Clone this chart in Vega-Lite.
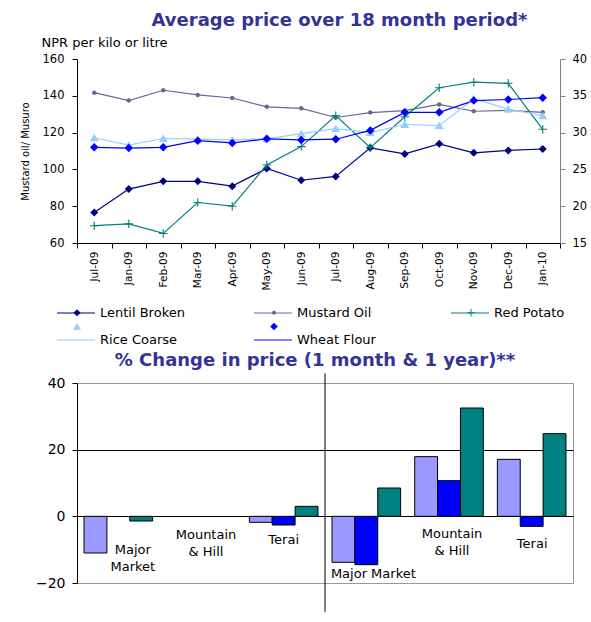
{
  "$schema": "https://vega.github.io/schema/vega-lite/v6.json",
  "background": "white",
  "padding": {"left": 20, "top": 12, "right": 0, "bottom": 0},
  "spacing": 4,
  "resolve": {"scale": {"fill": "independent", "stroke": "independent", "shape": "independent", "color": "independent", "x": "independent", "y": "independent"}, "legend": {"fill": "independent", "stroke": "independent", "shape": "independent", "color": "independent"}},
  "config": {
    "font": "DejaVu Sans",
    "axis": {"labelColor": "#000", "titleColor": "#000", "domainColor": "#000", "tickColor": "#000", "labelFont": "DejaVu Sans", "titleFont": "DejaVu Sans"},
    "legend": {"labelColor": "#000", "labelFont": "DejaVu Sans", "padding": 0}
  },
  "datasets": {
    "prices": [
      {"i": 0, "series": "Lentil Broken", "axis": "L", "value": 76.6},
      {"i": 1, "series": "Lentil Broken", "axis": "L", "value": 89.3},
      {"i": 2, "series": "Lentil Broken", "axis": "L", "value": 93.5},
      {"i": 3, "series": "Lentil Broken", "axis": "L", "value": 93.5},
      {"i": 4, "series": "Lentil Broken", "axis": "L", "value": 90.9},
      {"i": 5, "series": "Lentil Broken", "axis": "L", "value": 100.5},
      {"i": 6, "series": "Lentil Broken", "axis": "L", "value": 94.1},
      {"i": 7, "series": "Lentil Broken", "axis": "L", "value": 96.2},
      {"i": 8, "series": "Lentil Broken", "axis": "L", "value": 111.7},
      {"i": 9, "series": "Lentil Broken", "axis": "L", "value": 108.4},
      {"i": 10, "series": "Lentil Broken", "axis": "L", "value": 113.9},
      {"i": 11, "series": "Lentil Broken", "axis": "L", "value": 109.0},
      {"i": 12, "series": "Lentil Broken", "axis": "L", "value": 110.3},
      {"i": 13, "series": "Lentil Broken", "axis": "L", "value": 111.1},
      {"i": 0, "series": "Mustard Oil", "axis": "L", "value": 141.7},
      {"i": 1, "series": "Mustard Oil", "axis": "L", "value": 137.4},
      {"i": 2, "series": "Mustard Oil", "axis": "L", "value": 143.0},
      {"i": 3, "series": "Mustard Oil", "axis": "L", "value": 140.5},
      {"i": 4, "series": "Mustard Oil", "axis": "L", "value": 138.8},
      {"i": 5, "series": "Mustard Oil", "axis": "L", "value": 134.0},
      {"i": 6, "series": "Mustard Oil", "axis": "L", "value": 133.2},
      {"i": 7, "series": "Mustard Oil", "axis": "L", "value": 128.2},
      {"i": 8, "series": "Mustard Oil", "axis": "L", "value": 130.9},
      {"i": 9, "series": "Mustard Oil", "axis": "L", "value": 131.9},
      {"i": 10, "series": "Mustard Oil", "axis": "L", "value": 135.3},
      {"i": 11, "series": "Mustard Oil", "axis": "L", "value": 131.6},
      {"i": 12, "series": "Mustard Oil", "axis": "L", "value": 132.1},
      {"i": 13, "series": "Mustard Oil", "axis": "L", "value": 131.0},
      {"i": 0, "series": "Red Potato", "axis": "R", "value": 17.35},
      {"i": 1, "series": "Red Potato", "axis": "R", "value": 17.6},
      {"i": 2, "series": "Red Potato", "axis": "R", "value": 16.3},
      {"i": 3, "series": "Red Potato", "axis": "R", "value": 20.5},
      {"i": 4, "series": "Red Potato", "axis": "R", "value": 20.0},
      {"i": 5, "series": "Red Potato", "axis": "R", "value": 25.6},
      {"i": 6, "series": "Red Potato", "axis": "R", "value": 28.1},
      {"i": 7, "series": "Red Potato", "axis": "R", "value": 32.3},
      {"i": 8, "series": "Red Potato", "axis": "R", "value": 27.95},
      {"i": 9, "series": "Red Potato", "axis": "R", "value": 32.15},
      {"i": 10, "series": "Red Potato", "axis": "R", "value": 36.1},
      {"i": 11, "series": "Red Potato", "axis": "R", "value": 36.85},
      {"i": 12, "series": "Red Potato", "axis": "R", "value": 36.7},
      {"i": 13, "series": "Red Potato", "axis": "R", "value": 30.45},
      {"i": 0, "series": "Rice Coarse", "axis": "R", "value": 29.3},
      {"i": 1, "series": "Rice Coarse", "axis": "R", "value": 28.3},
      {"i": 2, "series": "Rice Coarse", "axis": "R", "value": 29.2},
      {"i": 3, "series": "Rice Coarse", "axis": "R", "value": 29.1},
      {"i": 4, "series": "Rice Coarse", "axis": "R", "value": 29.0},
      {"i": 5, "series": "Rice Coarse", "axis": "R", "value": 29.15},
      {"i": 6, "series": "Rice Coarse", "axis": "R", "value": 29.85},
      {"i": 7, "series": "Rice Coarse", "axis": "R", "value": 30.55},
      {"i": 8, "series": "Rice Coarse", "axis": "R", "value": 30.0},
      {"i": 9, "series": "Rice Coarse", "axis": "R", "value": 31.1},
      {"i": 10, "series": "Rice Coarse", "axis": "R", "value": 30.95},
      {"i": 11, "series": "Rice Coarse", "axis": "R", "value": 34.6},
      {"i": 12, "series": "Rice Coarse", "axis": "R", "value": 33.2},
      {"i": 13, "series": "Rice Coarse", "axis": "R", "value": 32.3},
      {"i": 0, "series": "Wheat Flour", "axis": "R", "value": 28.0},
      {"i": 1, "series": "Wheat Flour", "axis": "R", "value": 27.9},
      {"i": 2, "series": "Wheat Flour", "axis": "R", "value": 28.0},
      {"i": 3, "series": "Wheat Flour", "axis": "R", "value": 28.9},
      {"i": 4, "series": "Wheat Flour", "axis": "R", "value": 28.6},
      {"i": 5, "series": "Wheat Flour", "axis": "R", "value": 29.15},
      {"i": 6, "series": "Wheat Flour", "axis": "R", "value": 29.0},
      {"i": 7, "series": "Wheat Flour", "axis": "R", "value": 29.1},
      {"i": 8, "series": "Wheat Flour", "axis": "R", "value": 30.3},
      {"i": 9, "series": "Wheat Flour", "axis": "R", "value": 32.75},
      {"i": 10, "series": "Wheat Flour", "axis": "R", "value": 32.75},
      {"i": 11, "series": "Wheat Flour", "axis": "R", "value": 34.35},
      {"i": 12, "series": "Wheat Flour", "axis": "R", "value": 34.5},
      {"i": 13, "series": "Wheat Flour", "axis": "R", "value": 34.75}
    ],
    "change": [
      {"group": "MM1", "product": "Coarse rice", "value": -11.0},
      {"group": "MM1", "product": "Musuro (Broken Lentil)", "value": -1.4},
      {"group": "T1", "product": "Coarse rice", "value": -1.8},
      {"group": "T1", "product": "Mustard oil", "value": -2.6},
      {"group": "T1", "product": "Musuro (Broken Lentil)", "value": 3.0},
      {"group": "MM2", "product": "Coarse rice", "value": -13.8},
      {"group": "MM2", "product": "Mustard oil", "value": -14.5},
      {"group": "MM2", "product": "Musuro (Broken Lentil)", "value": 8.5},
      {"group": "MH2", "product": "Coarse rice", "value": 17.9},
      {"group": "MH2", "product": "Mustard oil", "value": 10.7},
      {"group": "MH2", "product": "Musuro (Broken Lentil)", "value": 32.5},
      {"group": "T2", "product": "Coarse rice", "value": 17.1},
      {"group": "T2", "product": "Mustard oil", "value": -3.0},
      {"group": "T2", "product": "Musuro (Broken Lentil)", "value": 24.8}
    ]
  },
  "vconcat": [
    {
      "width": 483,
      "height": 184,
      "view": {"stroke": null},
      "title": {"text": "Average price over 18 month period*", "font": "DejaVu Sans", "fontSize": 18, "fontWeight": "bold", "color": "#333399", "offset": 6, "dx": 21},
      "data": {"name": "prices"},
      "encoding": {
        "x": {
          "field": "i", "type": "ordinal",
          "scale": {"type": "band", "paddingInner": 0, "paddingOuter": 0},
          "axis": {
            "title": null,
            "labelExpr": "['Jul-09','Jan-09','Feb-09','Mar-09','Apr-09','May-09','Jun-09','Jul-09','Aug-09','Sep-09','Oct-09','Nov-09','Dec-09','Jan-10'][datum.value]",
            "labelAngle": -90, "labelFontSize": 10.6, "labelPadding": 3,
            "tickBand": "extent", "tickSize": 5
          }
        }
      },
      "layer": [
        {
          "transform": [{"filter": "datum.axis === 'L'"}],
          "encoding": {
            "y": {
              "field": "value", "type": "quantitative",
              "scale": {"domain": [60, 160], "nice": false, "zero": false},
              "axis": {"title": "Mustard oil/ Musuro", "titleFontSize": 10, "titleFontWeight": "normal", "titlePadding": 12, "values": [60, 80, 100, 120, 140, 160], "grid": false, "labelFontSize": 11.5, "labelPadding": 8, "tickSize": 5}
            }
          },
          "layer": [
            {
              "mark": {"type": "line", "strokeWidth": 1.2},
              "encoding": {
                "stroke": {
                  "field": "series", "type": "nominal",
                  "scale": {"domain": ["Lentil Broken", "Mustard Oil", "Red Potato", "Rice Coarse", "Wheat Flour", "zz"], "range": ["#000080", "#666699", "#008080", "#99CCFF", "#0000FF", "#000000"]},
                  "legend": {
                    "title": null, "orient": "none", "legendX": -21, "legendY": 234, "direction": "horizontal", "columns": 3, "gridAlign": "all", "columnPadding": 66, "rowPadding": -14,
                    "values": ["Lentil Broken", "Mustard Oil", "Red Potato", "Rice Coarse", "Wheat Flour"],
                    "symbolType": "stroke", "symbolSize": 1444, "symbolStrokeWidth": 1.2, "labelFontSize": 13, "labelOffset": 4
                  }
                }
              }
            },
            {
              "mark": {"type": "point", "filled": true, "size": 100, "opacity": 1},
              "encoding": {
                "shape": {"field": "series", "type": "nominal", "scale": {"domain": ["Lentil Broken", "Mustard Oil", "Red Potato", "Rice Coarse", "Wheat Flour"], "range": ["M0,-0.8L0.8,0L0,0.8L-0.8,0Z", "M-0.45,0A0.45,0.45,0,1,0,0.45,0A0.45,0.45,0,1,0,-0.45,0Z", "M-0.85,-0.11H-0.11V-0.85H0.11V-0.11H0.85V0.11H0.11V0.85H-0.11V0.11H-0.85Z", "M0,-0.8L0.9,0.7L-0.9,0.7Z", "M0,-0.85L0.85,0L0,0.85L-0.85,0Z"]}},
                "color": {
                  "field": "series", "type": "nominal",
                  "scale": {"domain": ["Lentil Broken", "Mustard Oil", "Red Potato", "Rice Coarse", "Wheat Flour"], "range": ["#000080", "#666699", "#008080", "#99CCFF", "#0000FF"]},
                  "legend": {
                    "title": null, "orient": "none", "legendX": -6.5, "legendY": 247, "direction": "horizontal", "columns": 3, "gridAlign": "all", "columnPadding": 66, "rowPadding": 0,
                    "symbolSize": 80, "symbolStrokeWidth": 0, "labelFontSize": 13, "labelOffset": 33, "labelColor": "transparent"
                  }
                }
              }
            }
          ]
        },
        {
          "transform": [{"filter": "datum.axis === 'R'"}],
          "encoding": {
            "y": {
              "field": "value", "type": "quantitative",
              "scale": {"domain": [15, 40], "nice": false, "zero": false},
              "axis": {"orient": "right", "title": "NPR per kilo or litre", "titleAngle": 0, "titleX": -519, "titleY": -17, "titleAlign": "left", "titleBaseline": "middle", "titleFontSize": 13, "titleFontWeight": "normal", "values": [15, 20, 25, 30, 35, 40], "grid": false, "labelFontSize": 11.5, "labelPadding": 7, "tickSize": 5, "domainColor": "#808080", "tickColor": "#808080"}
            }
          },
          "layer": [
            {
              "mark": {"type": "line", "strokeWidth": 1.2},
              "encoding": {
                "stroke": {"field": "series", "type": "nominal", "scale": {"domain": ["Lentil Broken", "Mustard Oil", "Red Potato", "Rice Coarse", "Wheat Flour", "zz"], "range": ["#000080", "#666699", "#008080", "#99CCFF", "#0000FF", "#000000"]}}
              }
            },
            {
              "mark": {"type": "point", "filled": true, "size": 100, "opacity": 1},
              "encoding": {
                "shape": {"field": "series", "type": "nominal", "scale": {"domain": ["Lentil Broken", "Mustard Oil", "Red Potato", "Rice Coarse", "Wheat Flour"], "range": ["M0,-0.8L0.8,0L0,0.8L-0.8,0Z", "M-0.45,0A0.45,0.45,0,1,0,0.45,0A0.45,0.45,0,1,0,-0.45,0Z", "M-0.85,-0.11H-0.11V-0.85H0.11V-0.11H0.85V0.11H0.11V0.85H-0.11V0.11H-0.85Z", "M0,-0.8L0.9,0.7L-0.9,0.7Z", "M0,-0.85L0.85,0L0,0.85L-0.85,0Z"]}},
                "color": {
                  "field": "series", "type": "nominal",
                  "scale": {"domain": ["Lentil Broken", "Mustard Oil", "Red Potato", "Rice Coarse", "Wheat Flour"], "range": ["#000080", "#666699", "#008080", "#99CCFF", "#0000FF"]}
                }
              }
            }
          ]
        }
      ],
      "resolve": {"scale": {"y": "independent"}}
    },
    {
      "width": 496,
      "height": 200,
      "view": {"stroke": "#999999"},
      "title": {"text": "% Change in price (1 month & 1 year)**", "font": "DejaVu Sans", "fontSize": 18, "fontWeight": "bold", "color": "#333399", "offset": 3, "dx": -10},
      "data": {"name": "change"},
      "layer": [
        {
          "mark": {"type": "bar", "stroke": "#000", "strokeWidth": 1},
          "encoding": {
            "x": {
              "field": "group", "type": "nominal",
              "scale": {"domain": ["MM1", "MH1", "T1", "MM2", "MH2", "T2"], "paddingInner": 0.17, "paddingOuter": 0.085},
              "axis": {
                "title": null, "domain": false, "ticks": false, "tickSize": 0, "labelAngle": 0, "offset": -67,
                "labelFontSize": 13, "labelLineHeight": 17, "labelAlign": "center", "labelBaseline": "top",
                "labelExpr": "datum.value === 'MM1' ? ['Major', 'Market'] : (datum.value === 'MH1' || datum.value === 'MH2') ? ['Mountain', '& Hill'] : datum.value === 'MM2' ? 'Major Market' : 'Terai'",
                "labelPadding": {"condition": [
                  {"test": "datum.value === 'MM1'", "value": 27.5},
                  {"test": "datum.value === 'MH1'", "value": 12},
                  {"test": "datum.value === 'T1'", "value": 17},
                  {"test": "datum.value === 'MM2'", "value": 51},
                  {"test": "datum.value === 'MH2'", "value": 11}
                ], "value": 21},
                "labelOffset": {"condition": [
                  {"test": "datum.value === 'MM1'", "value": 14.5},
                  {"test": "datum.value === 'MH1'", "value": 5},
                  {"test": "datum.value === 'T1'", "value": 0},
                  {"test": "datum.value === 'MM2'", "value": 7},
                  {"test": "datum.value === 'MH2'", "value": 3}
                ], "value": 0.5}
              }
            },
            "xOffset": {"field": "product", "type": "nominal", "scale": {"domain": ["Coarse rice", "Mustard oil", "Musuro (Broken Lentil)"], "paddingInner": 0, "paddingOuter": 0}},
            "y": {
              "field": "value", "type": "quantitative",
              "scale": {"domain": [-20, 40], "nice": false, "zero": false},
              "axis": {"title": null, "values": [-20, 0, 20, 40], "grid": true, "gridColor": {"condition": {"test": "datum.value === 0 || datum.value === 20", "value": "#000"}, "value": "#999999"}, "gridOpacity": 1, "labelFontSize": 14, "labelPadding": 7, "tickSize": 5}
            },
            "fill": {
              "field": "product", "type": "nominal",
              "scale": {"domain": ["Coarse rice", "Mustard oil", "Musuro (Broken Lentil)"], "range": ["#9999FF", "#0000FF", "#008080"]},
              "legend": {
                "title": null, "orient": "none", "legendX": 16, "legendY": 238, "direction": "horizontal", "columnPadding": 28, "labelLimit": 300,
                "symbolType": "square", "symbolSize": 81, "symbolStrokeWidth": 1, "symbolStrokeColor": "#000", "labelFontSize": 16, "labelOffset": 6
              }
            }
          }
        },
        {
          "data": {"values": [{}]},
          "mark": {"type": "rule", "color": "#000", "strokeWidth": 1},
          "encoding": {
            "x": {"datum": "MM2", "type": "nominal", "bandPosition": -0.1024},
            "y": {"datum": 42.9, "type": "quantitative"},
            "y2": {"datum": -28.7}
          }
        }
      ]
    }
  ]
}
